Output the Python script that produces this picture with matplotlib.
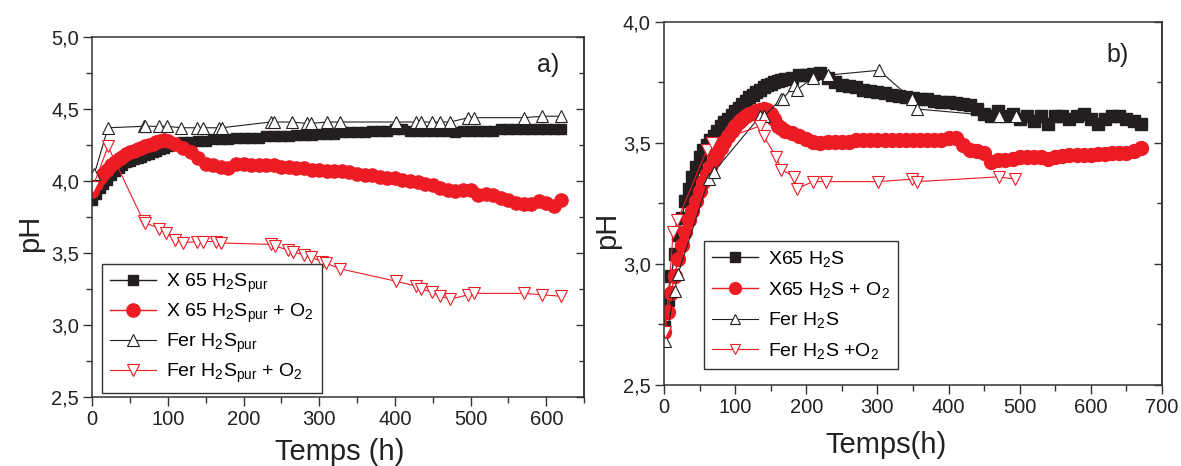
import numpy as np
import matplotlib.pyplot as plt
from matplotlib.ticker import MultipleLocator, FuncFormatter

plt.rcParams['font.family'] = ['Liberation Sans', 'DejaVu Sans']
plt.rcParams['mathtext.default'] = 'regular'

RED = '#ed1c24'
BLK = '#231f20'

# ---- panel a) ----
a_t_dense = list(range(0, 100, 5)) + list(range(100, 630, 10))
a_x65 = [3.87, 3.91, 3.95, 3.98, 4.01, 4.04, 4.07, 4.09, 4.11, 4.13,
         4.14, 4.15, 4.16, 4.17, 4.18, 4.19, 4.20, 4.21, 4.22, 4.23,
         4.24, 4.26, 4.27, 4.27, 4.28, 4.28, 4.29, 4.29, 4.29, 4.30,
         4.30, 4.30, 4.30, 4.31, 4.31, 4.31, 4.31, 4.32, 4.32, 4.32,
         4.33, 4.33, 4.33, 4.34, 4.34, 4.34, 4.34, 4.35, 4.35, 4.35,
         4.36, 4.36, 4.35, 4.35, 4.35, 4.35, 4.35, 4.35, 4.34, 4.35,
         4.35, 4.35, 4.35, 4.35, 4.36, 4.36, 4.36, 4.36, 4.36, 4.36,
         4.36, 4.36, 4.36]
a_x65_o2 = [3.93, 3.98, 4.02, 4.05, 4.08, 4.11, 4.13, 4.15, 4.17, 4.19,
            4.20, 4.21, 4.22, 4.23, 4.24, 4.25, 4.26, 4.27, 4.28, 4.285,
            4.28, 4.26, 4.23, 4.20, 4.16, 4.12, 4.11, 4.10, 4.09, 4.12,
            4.12, 4.11, 4.11, 4.11, 4.11, 4.10, 4.10, 4.09, 4.09, 4.08,
            4.08, 4.07, 4.07, 4.07, 4.06, 4.05, 4.04, 4.04, 4.03, 4.02,
            4.02, 4.01, 4.00, 3.99, 3.98, 3.97, 3.95, 3.94, 3.93, 3.94,
            3.94, 3.90, 3.91, 3.90, 3.88, 3.87, 3.85, 3.84, 3.84, 3.86,
            3.85, 3.83, 3.87]

a_t_fer = [3, 21, 68, 70, 88, 99, 118, 138, 147, 167, 171, 236, 240, 264,
           284, 289, 310, 328, 401, 428, 434, 449, 459, 473, 497, 504,
           570, 595, 619]
a_fer = [4.05, 4.37, 4.38, 4.38, 4.38, 4.38, 4.37, 4.37, 4.37, 4.37, 4.37,
         4.41, 4.41, 4.41, 4.40, 4.40, 4.41, 4.41, 4.41, 4.41, 4.41, 4.41,
         4.41, 4.41, 4.44, 4.44, 4.44, 4.45, 4.45]
a_t_fer_o2 = [1, 21, 68, 70, 89, 98, 110, 120, 138, 147, 164, 170, 236,
              241, 259, 265, 280, 289, 304, 309, 328, 401, 428, 434, 449,
              459, 473, 497, 504, 570, 595, 619]
a_fer_o2 = [3.96, 4.24, 3.72, 3.71, 3.67, 3.64, 3.59, 3.57, 3.58, 3.58,
            3.58, 3.57, 3.56, 3.55, 3.52, 3.51, 3.485, 3.47, 3.44, 3.43,
            3.39, 3.305, 3.27, 3.25, 3.23, 3.20, 3.18, 3.21, 3.22, 3.22,
            3.21, 3.20]

# ---- panel b) ----
b_t_dense = list(range(0, 170, 5)) + list(range(170, 680, 10))
b_x65 = [2.74, 2.85, 2.95, 3.04, 3.12, 3.19, 3.26, 3.31, 3.36, 3.40,
         3.44, 3.47, 3.49, 3.51, 3.53, 3.55, 3.57, 3.585, 3.60, 3.615,
         3.63, 3.645, 3.66, 3.675, 3.69, 3.70, 3.71, 3.72, 3.73, 3.74,
         3.745, 3.75, 3.755, 3.76,
         3.765, 3.77, 3.78, 3.78, 3.785, 3.79, 3.77, 3.75, 3.74, 3.735,
         3.73, 3.72, 3.715, 3.71, 3.705, 3.70, 3.695, 3.69, 3.685, 3.68,
         3.68, 3.675, 3.67, 3.67, 3.665, 3.66, 3.655, 3.64, 3.62, 3.61,
         3.63, 3.61, 3.62, 3.60, 3.61, 3.59, 3.61, 3.58, 3.61, 3.61,
         3.60, 3.61, 3.62, 3.60, 3.58, 3.60, 3.61, 3.61, 3.60, 3.59, 3.58]
b_x65_o2 = [2.72, 2.80, 2.88, 2.95, 3.02, 3.08, 3.13, 3.18, 3.22, 3.26,
            3.30, 3.34, 3.37, 3.40, 3.43, 3.455, 3.48, 3.505, 3.53, 3.55,
            3.57, 3.585, 3.60, 3.61, 3.62, 3.625, 3.63, 3.635, 3.64, 3.635,
            3.62, 3.60, 3.57, 3.56,
            3.55, 3.54, 3.53, 3.515, 3.505, 3.50, 3.505, 3.505, 3.505, 3.505,
            3.51, 3.51, 3.51, 3.51, 3.51, 3.51, 3.51, 3.51, 3.51, 3.51,
            3.51, 3.51, 3.51, 3.52, 3.52, 3.49, 3.47, 3.465, 3.46, 3.42,
            3.43, 3.43, 3.435, 3.44, 3.44, 3.44, 3.44, 3.435, 3.44, 3.445,
            3.45, 3.45, 3.45, 3.45, 3.455, 3.455, 3.46, 3.46, 3.46, 3.465,
            3.48]
b_t_fer = [2, 15, 20, 63, 70, 135, 141, 164, 167, 183, 187, 210, 230, 302,
           349, 356, 471, 495]
b_fer = [2.68, 2.89, 2.96, 3.35, 3.38, 3.61, 3.61, 3.68, 3.68, 3.74, 3.72,
         3.77, 3.78, 3.80, 3.68, 3.64, 3.61, 3.61]
b_t_fer_o2 = [2, 13, 19, 60, 68, 135, 140, 158, 165, 183, 187, 209, 228,
              301, 349, 356, 471, 494]
b_fer_o2 = [2.72, 3.13, 3.18, 3.47, 3.50, 3.57, 3.53, 3.44, 3.39, 3.36,
            3.31, 3.34, 3.34, 3.34, 3.35, 3.34, 3.36, 3.35]

comma = FuncFormatter(lambda v, p: f'{v:.1f}'.replace('.', ','))

fig = plt.figure(figsize=(11.81, 4.66), dpi=100)
ax1 = fig.add_axes([0.078, 0.148, 0.4166, 0.7725])
ax2 = fig.add_axes([0.5622, 0.174, 0.4217, 0.779])


def style(ax, xmax, ymin, ymax, xlabel, xlab_pos, ylab_pos):
    ax.set_xlim(0, xmax)
    ax.set_ylim(ymin, ymax)
    ax.xaxis.set_major_locator(MultipleLocator(100))
    ax.xaxis.set_minor_locator(MultipleLocator(50))
    ax.yaxis.set_major_locator(MultipleLocator(0.5))
    ax.yaxis.set_minor_locator(MultipleLocator(0.25))
    ax.yaxis.set_major_formatter(comma)
    ax.tick_params(which='both', direction='out', labelsize=14.5, top=False,
                   right=False, width=1, color='#333333', labelcolor='#222222')
    ax.tick_params(which='major', length=6.5, pad=3)
    ax.tick_params(which='minor', length=4)
    # inward ticks on the right spine
    sec = ax.secondary_yaxis('right')
    sec.yaxis.set_major_locator(MultipleLocator(0.5))
    sec.yaxis.set_minor_locator(MultipleLocator(0.25))
    sec.tick_params(which='both', direction='in', labelright=False,
                    width=1, color='#333333')
    sec.tick_params(which='major', length=6)
    sec.tick_params(which='minor', length=3.5)
    sec.spines['right'].set_linewidth(1.1)
    sec.spines['right'].set_color('#333333')
    for s in ax.spines.values():
        s.set_linewidth(1.1)
        s.set_color('#333333')
    ax.set_xlabel(xlabel, fontsize=21, color='#222222')
    ax.set_ylabel('pH', fontsize=21, color='#222222')
    ax.xaxis.set_label_coords(*xlab_pos)
    ax.yaxis.set_label_coords(*ylab_pos)
    ax.xaxis.label.set_va('center')
    ax.yaxis.label.set_va('center')


# panel a
ax1.plot(a_t_dense, a_x65, '-s', color=BLK, lw=1, ms=6.5,
         label='X 65 H$_2$S$_{pur}$')
ax1.plot(a_t_dense, a_x65_o2, '-o', color=RED, lw=1, ms=9.5, mec=RED,
         label='X 65 H$_2$S$_{pur}$ + O$_2$')
ax1.plot(a_t_fer, a_fer, '-^', color=BLK, lw=0.8, ms=9, mfc='white',
         mec=BLK, mew=0.8, label='Fer H$_2$S$_{pur}$')
ax1.plot(a_t_fer_o2, a_fer_o2, '-v', color=RED, lw=0.8, ms=9, mfc='white',
         mec=RED, mew=0.8, label='Fer H$_2$S$_{pur}$ + O$_2$')
style(ax1, 650, 2.5, 5.0, 'Temps (h)', (0.504, -0.153), (-0.126, 0.456))
ax1.text(0.927, 0.922, 'a)', transform=ax1.transAxes, fontsize=18,
         ha='center', va='center', color='#222222')
leg1 = ax1.legend(loc='lower left', bbox_to_anchor=(0.02, 0.012),
                  borderaxespad=0, fontsize=14, fancybox=False,
                  edgecolor='#333333', framealpha=1, handlelength=2.4,
                  labelspacing=0.35, handletextpad=0.5, borderpad=0.4)
leg1.get_frame().set_linewidth(1)

# panel b
ax2.plot(b_t_dense, b_x65, '-s', color=BLK, lw=1, ms=9,
         label='X65 H$_2$S')
ax2.plot(b_t_dense, b_x65_o2, '-o', color=RED, lw=1, ms=10, mec=RED,
         label='X65 H$_2$S + O$_2$')
ax2.plot(b_t_fer, b_fer, '-^', color=BLK, lw=0.8, ms=9, mfc='white',
         mec=BLK, mew=0.8, label='Fer H$_2$S')
ax2.plot(b_t_fer_o2, b_fer_o2, '-v', color=RED, lw=0.8, ms=9, mfc='white',
         mec=RED, mew=0.8, label='Fer H$_2$S +O$_2$')
style(ax2, 700, 2.5, 4.0, 'Temps(h)', (0.446, -0.165), (-0.114, 0.427))
ax2.text(0.91, 0.909, 'b)', transform=ax2.transAxes, fontsize=18,
         ha='center', va='center', color='#222222')
leg2 = ax2.legend(loc='lower left', bbox_to_anchor=(0.08, 0.044),
                  borderaxespad=0, fontsize=14, fancybox=False,
                  edgecolor='#333333', framealpha=1, handlelength=2.4,
                  labelspacing=0.55, handletextpad=0.5, borderpad=0.4,
                  markerscale=0.85)
leg2.get_frame().set_linewidth(1)

fig.savefig('out.png', dpi=100)
